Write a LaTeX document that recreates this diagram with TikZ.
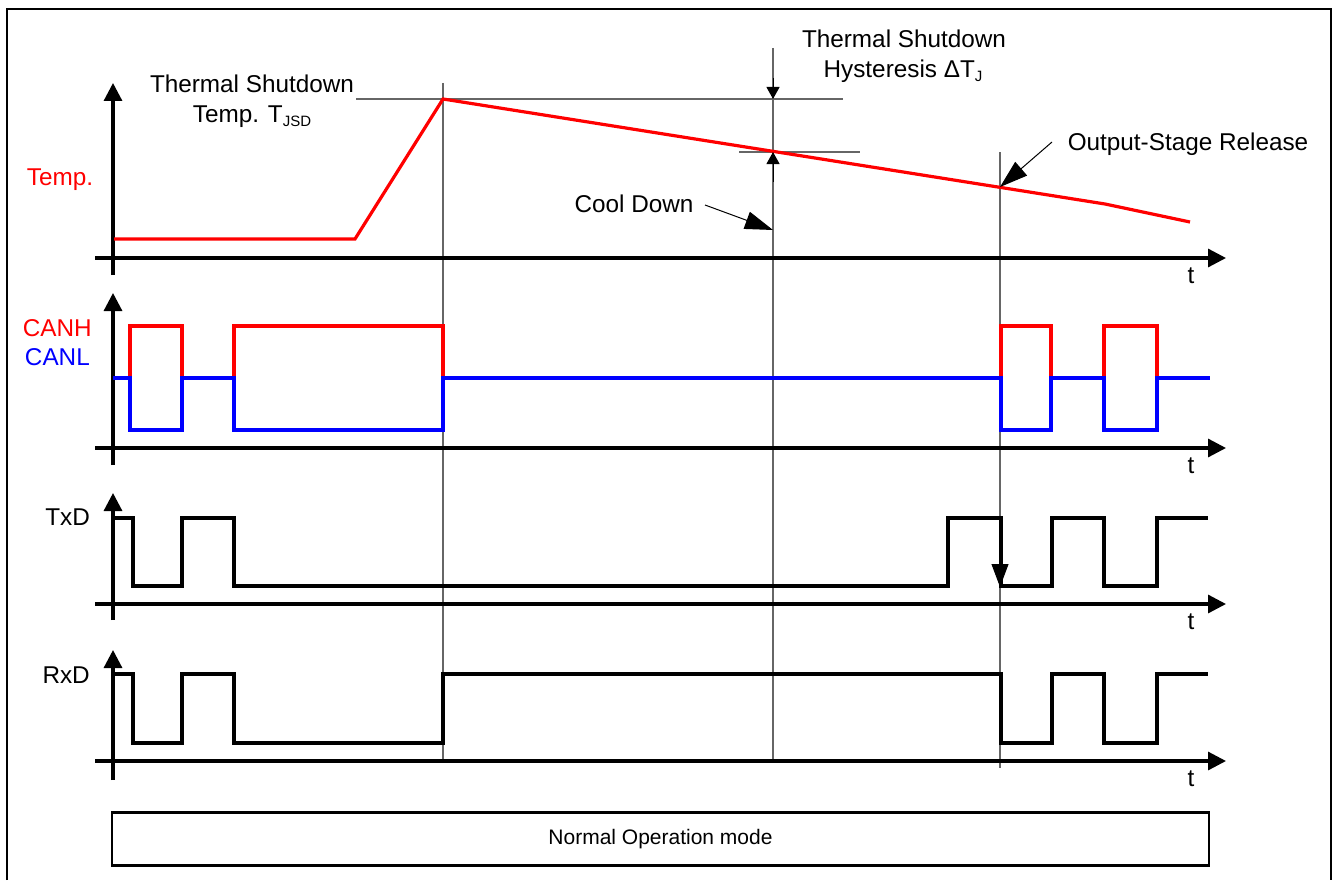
\documentclass[tikz,border=0pt]{standalone}
\usepackage{fontspec}
\setmainfont{Liberation Sans}
\usetikzlibrary{arrows.meta}
\newcommand{\subtxt}[1]{\raisebox{-4pt}{\fontsize{15}{15}\selectfont #1}}
\begin{document}
\begin{tikzpicture}[x=1pt,y=-1pt,
  sig/.style={line width=3.2pt},
  axis/.style={line width=3.2pt,-{Triangle[width=18pt,length=18pt]}},
  guide/.style={line width=1.2pt,draw=black!60},
  lbl/.style={font=\fontsize{24.3}{28}\selectfont,inner sep=0pt},
  dimarrow/.style={line width=1pt,-{Triangle[width=13pt,length=12pt]}},
  callout/.style={line width=1pt,-{Triangle[width=18pt,length=28pt]}}]
\useasboundingbox (0,0) rectangle (1332,880);
% frame
\draw[line width=2pt] (7,880) -- (7,9) -- (1331,9) -- (1331,880);
% guide lines
\draw[guide] (443,83) -- (443,760);
\draw[guide] (356,99) -- (843,99);
\draw[guide] (739,152) -- (860,152);
\draw[guide] (773,48) -- (773,760);
\draw[guide] (1000,152) -- (1000,768);
% axes
\draw[axis] (113,275) -- (113,83);
\draw[axis] (95,258) -- (1226,258);
\draw[axis] (113,465) -- (113,293);
\draw[axis] (95,448) -- (1226,448);
\draw[axis] (113,620) -- (113,493);
\draw[axis] (95,604) -- (1226,604);
\draw[axis] (113,780) -- (113,650);
\draw[axis] (95,761) -- (1226,761);
% temperature
\draw[sig,red] (114,239) -- (355,239) -- (443,99) -- (1105,204) -- (1190,222);
% CAN
\draw[sig,red] (113,378) -- (130,378) -- (130,326) -- (182,326) -- (182,378) -- (234,378) -- (234,326) -- (443,326) -- (443,378) -- (1001,378) -- (1001,326) -- (1051,326) -- (1051,378) -- (1104,378) -- (1104,326) -- (1157,326) -- (1157,378) -- (1210,378);
\draw[sig,blue] (113,378) -- (130,378) -- (130,430) -- (182,430) -- (182,378) -- (234,378) -- (234,430) -- (443,430) -- (443,378) -- (1001,378) -- (1001,430) -- (1051,430) -- (1051,378) -- (1104,378) -- (1104,430) -- (1157,430) -- (1157,378) -- (1210,378);
% TxD
\draw[sig] (113,518) -- (133,518) -- (133,586) -- (182,586) -- (182,518) -- (234,518) -- (234,586) -- (948,586) -- (948,518) -- (1001,518) -- (1001,586) -- (1052,586) -- (1052,518) -- (1104,518) -- (1104,586) -- (1157,586) -- (1157,518) -- (1208,518);
% RxD
\draw[sig] (113,674) -- (133,674) -- (133,743) -- (182,743) -- (182,674) -- (234,674) -- (234,743) -- (443,743) -- (443,674) -- (1001,674) -- (1001,743) -- (1052,743) -- (1052,674) -- (1104,674) -- (1104,743) -- (1157,743) -- (1157,674) -- (1208,674);
% annotation arrows
\coordinate (hysA) at (773,78);
\coordinate (hysB) at (773,99);
\coordinate (hysC) at (773,182);
\coordinate (hysD) at (773,152);
\draw[dimarrow] (hysA) -- (hysB);
\draw[dimarrow] (hysC) -- (hysD);
\coordinate (coolS) at (705,205);
\coordinate (coolE) at (773,230);
\draw[callout] (coolS) -- (coolE);
\coordinate (relS) at (1052,142);
\coordinate (relE) at (1000,187);
\draw[callout] (relS) -- (relE);
\coordinate (txS) at (1000,540);
\coordinate (txE) at (1000,587);
\draw[line width=1pt,-{Triangle[width=17pt,length=23pt]}] (txS) -- (txE);
% labels
\node[lbl,anchor=base] (tsd1) at (252,93) {Thermal Shutdown};
\node[lbl,anchor=base] (tsd2) at (252,122) {Temp. T\subtxt{JSD}};
\node[lbl,anchor=base] (hys1) at (904,48) {Thermal Shutdown};
\node[lbl,anchor=base] (hys2) at (903,78) {Hysteresis ΔT\subtxt{J}};
\node[lbl,anchor=base] (cool) at (634,212) {Cool Down};
\node[lbl,anchor=base] (rel) at (1188,150) {Output-Stage Release};
\node[lbl,anchor=base,text=red] (temp) at (60,185) {Temp.};
\node[lbl,anchor=base east,text=red] (canh) at (92,336) {CANH};
\node[lbl,anchor=base east,text=blue] (canl) at (90,365) {CANL};
\node[lbl,anchor=base east] (txd) at (90,525) {TxD};
\node[lbl,anchor=base east] (rxd) at (90,683) {RxD};
\node[lbl,anchor=base] (t1) at (1191,283) {t};
\node[lbl,anchor=base] (t2) at (1191,473) {t};
\node[lbl,anchor=base] (t3) at (1191,629) {t};
\node[lbl,anchor=base] (t4) at (1191,786) {t};
\node[draw,line width=2.5pt,minimum width=1097pt,minimum height=53pt,inner sep=0pt,font=\fontsize{21}{25}\selectfont] (mode) at (660.5,839) {Normal Operation mode};
\end{tikzpicture}
\end{document}
